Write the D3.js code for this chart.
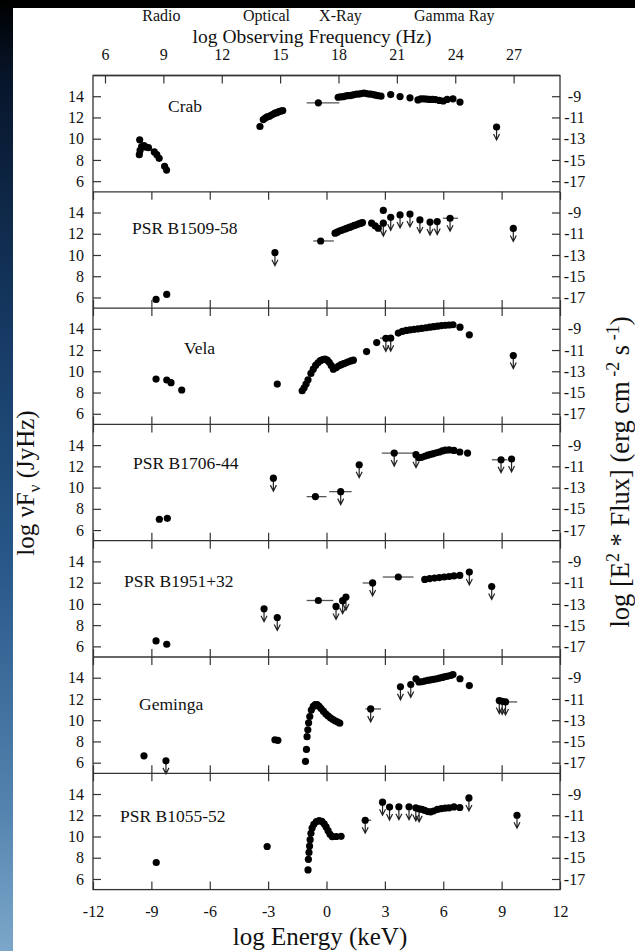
<!DOCTYPE html>
<html lang="en">
<head>
<meta charset="utf-8">
<title>Pulsar spectra</title>
<script src="https://cdn.jsdelivr.net/npm/d3@7"></script>
<style>
  body { margin: 0; background: #000; }
  svg { display: block; }
  text { font-family: "Liberation Serif", "Times New Roman", serif; fill: #111; }
  .tick line { stroke: #333; stroke-width: 1.2; }
  .frame { fill: none; stroke: #333; stroke-width: 1.3; }
  .bar { stroke: #555; stroke-width: 1.3; }
  .ul { fill: none; stroke: #222; stroke-width: 1.2; }
</style>
</head>
<body>
<div id="chart"></div>
<script>
// panel names
var names = ["Crab", "PSR B1509-58", "Vela", "PSR B1706-44", "PSR B1951+32", "Geminga", "PSR B1055-52"];

// [log E (keV), log nuFnu]
var crabPts = [[-9.6,9.9],[-9.62,8.5],[-9.58,8.9],[-9.5,9.25],[-9.38,9.35],[-9.28,9.2],[-9.15,9.15],[-8.85,8.75],[-8.72,8.5],[-8.6,8.15],[-8.32,7.4],[-8.22,7.05],
  [-3.42,11.15],[-3.25,11.8],[-3.15,11.95],[-3.05,12.05],[-2.95,12.1],[-2.85,12.2],[-2.75,12.3],[-2.65,12.4],[-2.55,12.45],[-2.45,12.55],[-2.35,12.6],[-2.25,12.65],
  [-0.42,13.38],
  [0.6,13.9],[0.72,13.95],[0.84,13.95],[0.96,14.0],[1.08,14.05],[1.2,14.05],[1.32,14.1],[1.44,14.15],[1.56,14.2],[1.68,14.2],[1.8,14.25],[1.92,14.3],[2.04,14.25],[2.16,14.2],[2.28,14.2],[2.4,14.15],[2.52,14.1],[2.64,14.05],[2.8,14.0],
  [3.3,14.15],[3.78,13.97],[4.29,13.85],
  [4.7,13.65],[4.85,13.75],[5.0,13.75],[5.15,13.72],[5.3,13.7],[5.45,13.7],[5.6,13.68],[5.8,13.6],[6.0,13.55],[6.2,13.7],[6.5,13.75],[6.86,13.45]];
var crabUL = [[8.74,11.1]];
var crabBars = [[-0.42,13.38,-1.02,0.66]];

var b1509Pts = [[-8.76,5.82],[-8.21,6.29],[-0.3,11.32],
  [0.44,12.05],[0.55,12.15],[0.66,12.25],[0.77,12.33],[0.88,12.4],[0.99,12.48],[1.1,12.55],[1.21,12.62],[1.32,12.7],[1.43,12.78],[1.54,12.85],[1.65,12.93],[1.76,13.0],[1.85,13.05],
  [2.32,13.0],[2.5,12.75],[2.66,12.52],[2.92,14.2]];
var b1509UL = [[-2.65,10.22],[2.92,13.0],[3.3,13.55],[3.78,13.77],[4.29,13.86],[4.8,13.3],[5.32,13.1],[5.69,13.15],[6.35,13.46],[9.6,12.5]];
var b1509Bars = [[-0.3,11.32,-0.68,0.38],[6.35,13.46,5.98,6.76]];

var velaPts = [[-8.76,9.27],[-8.21,9.18],[-7.99,8.93],[-7.44,8.24],[-2.53,8.8],
  [-1.25,8.17],[-1.15,8.45],[-1.05,8.8],[-0.95,9.2],[-0.8,9.8],[-0.68,10.2],[-0.56,10.55],[-0.44,10.8],[-0.32,11.0],[-0.2,11.1],[-0.08,11.15],[0.04,11.05],[0.14,10.85],[0.24,10.55],[0.35,10.2],[0.5,10.35],[0.62,10.5],[0.75,10.62],[0.88,10.72],[1.0,10.8],[1.12,10.9],[1.25,10.98],[1.38,11.05],
  [2.06,11.86],[2.58,12.7],[3.69,13.6],
  [3.9,13.75],[4.1,13.85],[4.3,13.9],[4.5,13.95],[4.7,14.0],[4.9,14.05],[5.1,14.1],[5.3,14.15],[5.5,14.2],[5.7,14.25],[5.9,14.3],[6.1,14.33],[6.3,14.36],[6.5,14.38],[6.86,14.15],[7.34,13.43]];
var velaUL = [[3.05,13.1],[3.3,13.12],[9.6,11.48]];
var velaBars = [[3.18,13.12,2.75,3.4]];

var b1706Pts = [[-8.59,7.02],[-8.18,7.11],[-0.57,9.15],
  [4.75,12.8],[4.9,12.85],[5.05,12.95],[5.2,13.05],[5.35,13.12],[5.5,13.2],[5.65,13.28],[5.8,13.35],[5.95,13.45],[6.1,13.52],[6.3,13.55],[6.55,13.5],[6.85,13.35],[7.25,13.25]];
var b1706UL = [[-2.73,10.89],[0.73,9.62],[1.68,12.15],[3.48,13.25],[4.6,13.1],[8.97,12.62],[9.51,12.69]];
var b1706Bars = [[-0.57,9.15,-1.02,0.0],[0.73,9.62,0.14,1.29],[3.48,13.25,2.84,4.55],[8.97,12.62,8.5,9.3]];

var b1951Pts = [[-8.76,6.51],[-8.21,6.2],[-0.42,10.32],[3.69,12.53],
  [5.05,12.3],[5.3,12.38],[5.55,12.43],[5.8,12.48],[6.05,12.53],[6.3,12.58],[6.55,12.63],[6.85,12.68]];
var b1951UL = [[-3.21,9.54],[-2.53,8.72],[0.49,9.76],[0.83,10.3],[1.0,10.64],[2.37,11.97],[7.34,13.0],[8.49,11.64]];
var b1951Bars = [[-0.42,10.32,-1.02,0.35],[2.37,11.97,1.86,2.55],[3.69,12.53,2.89,4.47]];

var gemPts = [[-9.38,6.65],[-2.65,8.16],[-2.5,8.1],
  [-1.08,6.12],[-1.03,7.25],[-1.0,8.45],[-0.96,9.1],[-0.92,9.75],[-0.86,10.35],[-0.78,10.95],[-0.68,11.3],[-0.58,11.47],[-0.48,11.47],[-0.38,11.3],[-0.28,11.1],[-0.16,10.85],[-0.04,10.6],[0.08,10.4],[0.2,10.22],[0.32,10.08],[0.44,9.95],[0.56,9.85],[0.68,9.72],
  [4.6,13.9],[4.75,13.6],[4.9,13.62],[5.05,13.68],[5.2,13.75],[5.35,13.8],[5.5,13.85],[5.65,13.9],[5.8,13.97],[5.95,14.03],[6.1,14.1],[6.25,14.15],[6.4,14.22],[6.5,14.3],[6.86,13.9],[7.34,13.26]];
var gemUL = [[-8.25,6.17],[2.27,11.06],[3.8,13.14],[4.33,13.36],[8.88,11.85],[9.03,11.78],[9.2,11.72]];
var gemBars = [[2.27,11.06,2.0,2.8],[9.2,11.72,8.9,9.8]];

var b1055Pts = [[-8.75,7.55],[-3.05,9.06],
  [-0.95,6.85],[-0.93,7.85],[-0.9,8.5],[-0.87,9.1],[-0.84,9.7],[-0.8,10.3],[-0.74,10.8],[-0.65,11.15],[-0.52,11.4],[-0.38,11.5],[-0.24,11.42],[-0.12,11.2],[-0.02,10.9],[0.08,10.55],[0.18,10.2],[0.3,9.98],[0.5,10.0],[0.75,10.02],
  [4.9,12.55],[5.05,12.45],[5.2,12.35],[5.35,12.32],[5.5,12.4],[5.7,12.55],[5.9,12.62],[6.1,12.67],[6.3,12.7],[6.55,12.78],[6.85,12.73]];
var b1055UL = [[1.99,11.53],[2.88,13.23],[3.24,12.77],[3.72,12.8],[4.24,12.8],[4.59,12.7],[4.76,12.6],[7.32,13.63],[9.79,12.0]];
var b1055Bars = [[1.99,11.53,1.9,2.3]];

var leftTicks = [6, 8, 10, 12, 14];
var rightTicks = [-17, -15, -13, -11, -9];
var energyTicks = [-12, -9, -6, -3, 0, 3, 6, 9, 12];
var freqTicks = [6, 9, 12, 15, 18, 21, 24, 27];
var bands = [["Radio", 8.9], ["Optical", 14.3], ["X-Ray", 18.1], ["Gamma Ray", 23.95]];

var panels = [
  {pts: crabPts, ul: crabUL, bars: crabBars},
  {pts: b1509Pts, ul: b1509UL, bars: b1509Bars},
  {pts: velaPts, ul: velaUL, bars: velaBars},
  {pts: b1706Pts, ul: b1706UL, bars: b1706Bars},
  {pts: b1951Pts, ul: b1951UL, bars: b1951Bars},
  {pts: gemPts, ul: gemUL, bars: gemBars},
  {pts: b1055Pts, ul: b1055UL, bars: b1055Bars}
];

// layout
var W = 635, H = 951;
var plotL = 93, plotR = 560, plotT = 75.5, ph = 116.3;
var labelX = [168, 132, 184, 133, 124, 139, 120];
var labelDy = [36.5, 42, 46, 45, 46, 53, 49];
var keVtoHz = Math.log10(2.418e17);
var fmt = function (d) { return String(d); };

var svg = d3.select("#chart").append("svg")
    .attr("width", W)
    .attr("height", H);

// slide background
var grad = svg.append("defs").append("linearGradient")
    .attr("id", "strip").attr("x1", 0).attr("y1", 0).attr("x2", 0).attr("y2", 1);
[[0, "#000000"], [0.08, "#07152a"], [0.35, "#163a64"], [0.6, "#28598a"], [0.85, "#5383ae"], [1, "#7ca7ca"]].forEach(function (s) {
    grad.append("stop").attr("offset", s[0]).attr("stop-color", s[1]);
});
svg.append("rect").attr("width", W).attr("height", H).attr("fill", "#000");
svg.append("rect").attr("width", 13).attr("height", H).attr("fill", "url(#strip)");
svg.append("rect").attr("x", 13).attr("y", 8).attr("width", W - 13).attr("height", H - 8).attr("fill", "#fff");

var x = d3.scaleLinear().domain([-12, 12]).range([plotL, plotR]);
var xf = d3.scaleLinear().domain([-12 + keVtoHz, 12 + keVtoHz]).range([plotL, plotR]);

// top frequency axis
var topAxis = svg.append("g")
    .attr("transform", "translate(0," + plotT + ")")
    .call(d3.axisTop(xf).tickValues(freqTicks).tickSize(-8).tickPadding(16).tickFormat(fmt));
topAxis.select(".domain").remove();
topAxis.selectAll("text").attr("font-size", 16).attr("fill", "#111");

svg.append("text")
    .attr("x", 312).attr("y", 43)
    .attr("text-anchor", "middle")
    .attr("font-size", 19.5)
    .text("log Observing Frequency (Hz)");

svg.selectAll(".band")
    .data(bands)
    .enter()
    .append("text")
    .attr("class", "band")
    .attr("x", function (d) { return xf(d[1]); })
    .attr("y", 21)
    .attr("text-anchor", "middle")
    .attr("font-size", 16)
    .text(function (d) { return d[0]; });

panels.forEach(function (p, i) {
    var t = plotT + i * ph;
    var y = d3.scaleLinear().domain([5, 15.95]).range([t + ph, t]);
    var yr = d3.scaleLinear().domain([5 - 23, 15.95 - 23]).range([t + ph, t]);
    var g = svg.append("g");

    var la = g.append("g").attr("transform", "translate(" + plotL + ",0)")
        .call(d3.axisLeft(y).tickValues(leftTicks).tickSize(-8).tickPadding(9).tickFormat(fmt));
    la.select(".domain").remove();
    la.selectAll("text").attr("font-size", 16).attr("fill", "#111");

    var ra = g.append("g").attr("transform", "translate(" + plotR + ",0)")
        .call(d3.axisRight(yr).tickValues(rightTicks).tickSize(-8).tickPadding(14.5).tickFormat(fmt));
    ra.select(".domain").remove();
    ra.selectAll("text").attr("font-size", 16).attr("fill", "#111").attr("text-anchor", "middle");

    if (i > 0) {
        var ta = g.append("g").attr("transform", "translate(0," + t + ")")
            .call(d3.axisTop(x).tickValues(energyTicks).tickSize(-8).tickFormat(""));
        ta.select(".domain").remove();
        var ba = g.append("g").attr("transform", "translate(0," + (t + ph) + ")")
            .call(d3.axisBottom(x).tickValues(energyTicks).tickSize(-8).tickPadding(16)
                .tickFormat(i == panels.length - 1 ? fmt : ""));
        ba.select(".domain").remove();
        ba.selectAll("text").attr("font-size", 16).attr("fill", "#111");
    }

    g.append("line").attr("class", "frame")
        .attr("x1", plotL).attr("x2", plotR).attr("y1", t).attr("y2", t);

    g.append("text")
        .attr("x", labelX[i]).attr("y", t + labelDy[i])
        .attr("font-size", 17.5)
        .text(names[i]);

    g.selectAll(".bar")
        .data(p.bars)
        .enter()
        .append("line")
        .attr("class", "bar")
        .attr("x1", function (d) { return x(d[2]); })
        .attr("x2", function (d) { return x(d[3]); })
        .attr("y1", function (d) { return y(d[1]); })
        .attr("y2", function (d) { return y(d[1]); });

    g.selectAll(".ul")
        .data(p.ul)
        .enter()
        .append("path")
        .attr("class", "ul")
        .attr("d", function (d) {
            var cx = x(d[0]), cy = y(d[1]);
            return "M" + cx + "," + cy + "L" + cx + "," + (cy + 13) +
                "M" + (cx - 3) + "," + (cy + 7) + "L" + cx + "," + (cy + 13) + "L" + (cx + 3) + "," + (cy + 7);
        });

    g.selectAll(".dot")
        .data(p.pts.concat(p.ul))
        .enter()
        .append("circle")
        .attr("class", "dot")
        .attr("cx", function (d) { return x(d[0]); })
        .attr("cy", function (d) { return y(d[1]); })
        .attr("r", 3.6)
        .attr("fill", "#000");
});

// outer frame
svg.append("rect").attr("class", "frame")
    .attr("x", plotL).attr("y", plotT)
    .attr("width", plotR - plotL).attr("height", ph * panels.length);

svg.append("text")
    .attr("x", 320).attr("y", 945)
    .attr("text-anchor", "middle")
    .attr("font-size", 25)
    .text("log Energy (keV)");

// left title
var lt = svg.append("text")
    .attr("transform", "translate(34,483) rotate(-90)")
    .attr("text-anchor", "middle")
    .attr("font-size", 25);
lt.append("tspan").text("log \u03bdF");
lt.append("tspan").attr("dy", 6).attr("font-size", 17).text("\u03bd");
lt.append("tspan").attr("dy", -6).text(" (JyHz)");

// right title, pushed to the page edge as in the slide
var rt = svg.append("text")
    .attr("transform", "translate(629,472) rotate(-90)")
    .attr("text-anchor", "middle")
    .attr("font-size", 26.5);
rt.append("tspan").text("log [E");
rt.append("tspan").attr("dy", -10).attr("font-size", 18).text("2");
rt.append("tspan").attr("dy", 10).text(" * Flux] (erg cm");
rt.append("tspan").attr("dy", -10).attr("font-size", 18).text(" -2");
rt.append("tspan").attr("dy", 10).text(" s");
rt.append("tspan").attr("dy", -10).attr("font-size", 18).text(" -1");
rt.append("tspan").attr("dy", 10).text(")");
</script>
</body>
</html>
